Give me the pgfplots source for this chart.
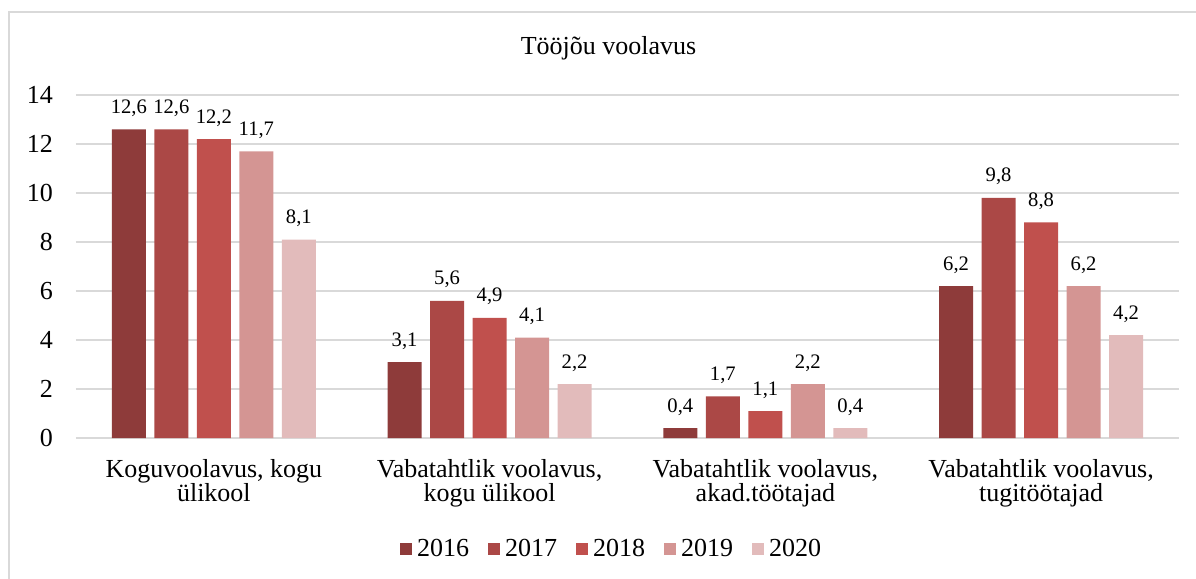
\documentclass[border=0pt]{standalone}
\usepackage{fontspec}
\setmainfont{Liberation Serif}
\usepackage{pgfplots}
\pgfplotsset{compat=1.18}

\definecolor{c16}{HTML}{8E3B3A}
\definecolor{c17}{HTML}{AB4846}
\definecolor{c18}{HTML}{C0504D}
\definecolor{c19}{HTML}{D49593}
\definecolor{c20}{HTML}{E2BBBB}
\definecolor{gridgray}{HTML}{D9D9D9}

\begin{document}
\begin{tikzpicture}
\useasboundingbox (0,0) rectangle (598pt,289.5pt);
\draw[gridgray, line width=0.8pt] (4.5pt,0) -- (4.5pt,283.5pt) -- (598pt,283.5pt);
\begin{axis}[
    at={(38pt,70.5pt)}, anchor=south west,
    scale only axis, width=551.5pt, height=171.5pt,
    ybar=4.25pt, bar width=17pt,
    xmin=-0.5, xmax=3.5, ymin=0, ymax=14,
    xtick={0,1,2,3},
    xticklabels={{Koguvoolavus, kogu\\ülikool},{Vabatahtlik voolavus,\\kogu ülikool},{Vabatahtlik voolavus,\\akad.töötajad},{Vabatahtlik voolavus,\\tugitöötajad}},
    ytick={0,2,...,14},
    axis line style={draw=none},
    major tick length=0pt,
    ymajorgrids, grid style={gridgray, line width=0.8pt},
    /pgf/number format/assume math mode=true,
    tick label style={font=\fontsize{13}{12}\selectfont},
    xticklabel style={align=center, anchor=north, yshift=-7pt},
    yticklabel style={xshift=-8pt},
    nodes near coords={\pgfmathprintnumber[fixed,fixed zerofill,precision=1,use comma]{\pgfplotspointmeta}},
    nodes near coords style={font=\fontsize{10.3}{12}\selectfont, anchor=base, inner sep=0pt, yshift=8pt, text=black},
    legend columns=5,
    legend style={at={(0.4869,-0.3236)}, anchor=center, draw=none, font=\fontsize{13}{14}\selectfont,
        column sep=0pt, nodes={inner xsep=2.5pt},
        /tikz/every even column/.append style={column sep=7pt}},
    legend image code/.code={\fill[#1] (0pt,-3pt) rectangle (6pt,3pt);},
]
\addplot[fill=c16, draw=none] coordinates {(0,12.6) (1,3.1) (2,0.4) (3,6.2)};
\addplot[fill=c17, draw=none] coordinates {(0,12.6) (1,5.6) (2,1.7) (3,9.8)};
\addplot[fill=c18, draw=none] coordinates {(0,12.2) (1,4.9) (2,1.1) (3,8.8)};
\addplot[fill=c19, draw=none] coordinates {(0,11.7) (1,4.1) (2,2.2) (3,6.2)};
\addplot[fill=c20, draw=none] coordinates {(0,8.1) (1,2.2) (2,0.4) (3,4.2)};
\legend{2016,2017,2018,2019,2020}
\end{axis}
\node[anchor=base, font=\fontsize{13}{14}\selectfont] at (304.25pt,262pt) {Tööjõu voolavus};
\end{tikzpicture}
\end{document}
